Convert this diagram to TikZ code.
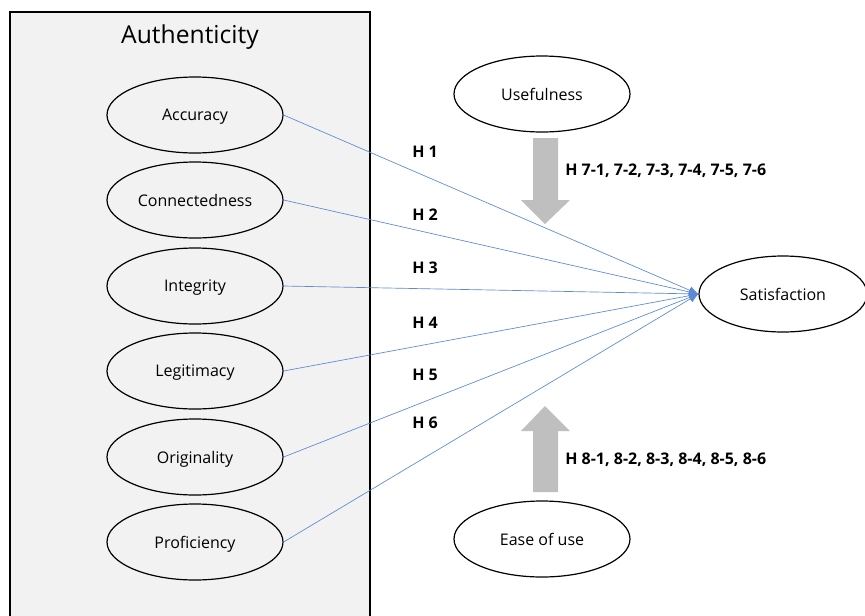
\documentclass[tikz,border=0pt]{standalone}
\usepackage{fontspec}
\setmainfont{Open Sans}
\usetikzlibrary{arrows.meta,shapes.geometric}

\definecolor{panelgray}{RGB}{242,242,242}
\definecolor{blockgray}{RGB}{191,191,191}
\definecolor{linkblue}{RGB}{91,138,214}

\begin{document}
\begin{tikzpicture}[x=0.75pt,y=-0.75pt,>=Latex,
	construct/.style={ellipse,draw=black,line width=0.9pt,minimum width=132pt,minimum height=57pt,text depth=0pt,font=\fontsize{12}{14}\selectfont},
	hyp/.style={font=\bfseries\fontsize{12}{14}\selectfont,inner sep=0pt},
	link/.style={linkblue,line width=0.5pt,-{Latex[length=7pt,width=6pt]}}]
	
	\useasboundingbox (0,0) rectangle (865,615);
	
	% Authenticity panel
	\draw[fill=panelgray,line width=0.9pt] (10,12) rectangle (370,625);
	\node[font=\fontsize{18.5}{22}\selectfont] (auth) at (190,37) {Authenticity};
	
	% Dimensions of authenticity
	\node[construct,fill=panelgray] (acc) at (195,115) {Accuracy};
	\node[construct,fill=panelgray] (con) at (195,200) {Connectedness};
	\node[construct,fill=panelgray] (int) at (195,286) {Integrity};
	\node[construct,fill=panelgray] (leg) at (195,371) {Legitimacy};
	\node[construct,fill=panelgray] (ori) at (195,457) {Originality};
	\node[construct,fill=panelgray] (pro) at (195,542) {Proficiency};
	
	% Outcome and moderators
	\node[construct,minimum width=126pt,fill=white] (sat) at (783,294) {Satisfaction};
	\node[construct,fill=white] (use) at (542,94) {Usefulness};
	\node[construct,fill=white] (ease) at (542,539) {Ease of use};
	
	% Block arrows
	\fill[blockgray] (533,138) -- (558,138) -- (558,200) -- (570,200) -- (545,224)
		-- (521,200) -- (533,200) -- cycle;
	\fill[blockgray] (533,492) -- (558,492) -- (558,431) -- (570,431) -- (545,406)
		-- (521,431) -- (533,431) -- cycle;
	
	% Paths H1 - H6
	\foreach \src in {acc,con,int,leg,ori,pro}
		\draw[link] (\src.east) -- (sat.west);
	
	% Hypothesis labels
	\node[hyp,anchor=west] (h1) at (412,152) {H\ 1};
	\node[hyp,anchor=west] (h2) at (412,215) {H\ 2};
	\node[hyp,anchor=west] (h3) at (412,268) {H\ 3};
	\node[hyp,anchor=west] (h4) at (412,323) {H\ 4};
	\node[hyp,anchor=west] (h5) at (412,375) {H\ 5};
	\node[hyp,anchor=west] (h6) at (412,423) {H\ 6};
	\node[hyp,anchor=west] (h7) at (565,171) {H 7-1, 7-2, 7-3, 7-4, 7-5, 7-6};
	\node[hyp,anchor=west] (h8) at (565,460) {H 8-1, 8-2, 8-3, 8-4, 8-5, 8-6};
	
\end{tikzpicture}
\end{document}
